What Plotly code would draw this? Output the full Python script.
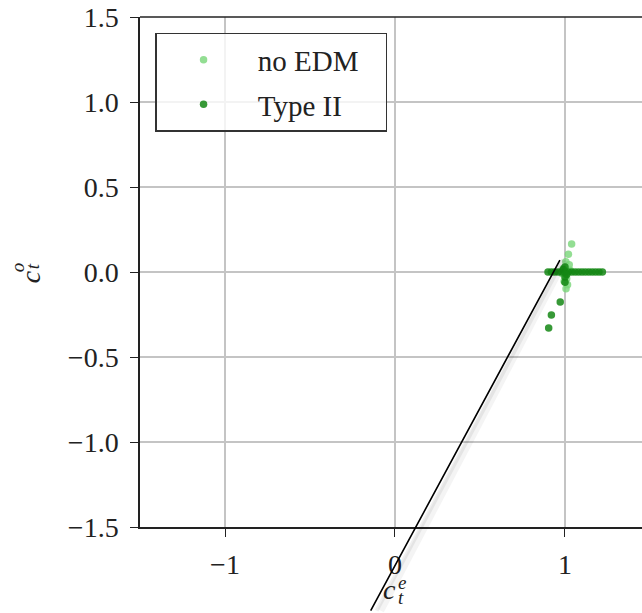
import plotly.graph_objects as go

# --- data ---
noedm_x = [1.039, 1.020, 1.025, 1.006, 1.015, 1.000, 0.990, 1.010, 1.030, 0.985, 1.005, 0.995]
noedm_y = [0.165, 0.104, 0.043, -0.098, -0.075, 0.000, 0.020, -0.040, 0.010, -0.010, 0.060, -0.055]

type2_x = [0.90, 0.92, 0.94, 0.96, 0.98, 1.00, 1.02, 1.04, 1.06, 1.08, 1.10, 1.12, 1.14, 1.16,
           1.18, 1.20, 1.22, 1.00, 1.00, 1.00, 0.99, 1.01, 0.972, 0.920, 0.904]
type2_y = [0.0, 0.0, 0.0, 0.0, 0.0, 0.0, 0.0, 0.0, 0.0, 0.0, 0.0, 0.0, 0.0, 0.0,
           0.0, 0.0, 0.0, 0.030, -0.030, -0.060, 0.015, -0.015, -0.176, -0.253, -0.329]

x_ticks = [-1, 0, 1]
y_ticks = [-1.5, -1.0, -0.5, 0.0, 0.5, 1.0, 1.5]
y_tick_text = ["\u22121.5", "\u22121.0", "\u22120.5", "0.0", "0.5", "1.0", "1.5"]
x_tick_text = ["\u22121", "0", "1"]

FONT = "Liberation Serif"
TXT = "#222"
NB = "\u00a0"

fig = go.Figure()
fig.add_trace(go.Scatter(x=noedm_x, y=noedm_y, mode="markers", name=NB + "no EDM" + NB * 3,
                         legendgroup="a",
                         marker=dict(size=7.5, color="rgba(120,214,120,0.8)", line=dict(width=0))))
fig.add_trace(go.Scatter(x=type2_x, y=type2_y, mode="markers", name=NB + "Type II",
                         legendgroup="b",
                         marker=dict(size=7.5, color="rgba(20,135,20,0.85)", line=dict(width=0))))

axis_common = dict(
    showgrid=True, gridcolor="#c4c4c4", gridwidth=1.5,
    zeroline=False, showline=True, linecolor="#222", linewidth=1.5,
    ticks="outside", ticklen=8, tickwidth=1.3, tickcolor="#222",
    tickfont=dict(family=FONT, size=28, color=TXT),
    ticklabeloverflow="allow", automargin=False,
)
fig.update_xaxes(range=[-1.5, 1.453], tickvals=x_ticks, ticktext=x_tick_text,
                 ticklabelstandoff=4, **axis_common)
fig.update_yaxes(range=[-1.5, 1.5], tickvals=y_ticks, ticktext=y_tick_text,
                 ticklabelstandoff=6, **axis_common)

annotations = []
# x axis title c_t^e
xt = dict(xref="paper", yref="paper", x=0.498, y=-0.1235, showarrow=False,
          xanchor="center", yanchor="middle", borderpad=0)
annotations.append(dict(**xt, text="<i>c</i>", font=dict(family=FONT, size=28, color=TXT)))
annotations.append(dict(**xt, text="<i>e</i>", xshift=12, yshift=7,
                        font=dict(family=FONT, size=19, color=TXT)))
annotations.append(dict(**xt, text="<i>t</i>", xshift=11, yshift=-8,
                        font=dict(family=FONT, size=19, color=TXT)))
# y axis title c_t^o
yt = dict(xref="paper", yref="paper", x=-0.219, y=0.490, showarrow=False, textangle=-90,
          xanchor="center", yanchor="middle", borderpad=0)
annotations.append(dict(**yt, text="<i>c</i>", font=dict(family=FONT, size=28, color=TXT)))
annotations.append(dict(**yt, text="<i>o</i>", xshift=-13, yshift=10,
                        font=dict(family=FONT, size=19, color=TXT)))
annotations.append(dict(**yt, text="<i>t</i>", xshift=2, yshift=11,
                        font=dict(family=FONT, size=19, color=TXT)))

# connector line from the cluster, with soft shadow
for dx, w, col in [(5, 7, "rgba(0,0,0,0.04)"), (3, 4, "rgba(0,0,0,0.06)"), (0, 1.6, "black")]:
    annotations.append(dict(xref="x", yref="y", x=0.97, y=0.07, ax=-190 + dx, ay=352,
                            axref="pixel", ayref="pixel", text="", showarrow=True,
                            arrowhead=0, arrowwidth=w, arrowcolor=col, xshift=dx,
                            startstandoff=0, standoff=0))

fig.update_layout(
    width=642, height=613,
    margin=dict(l=140, r=0, t=17, b=86, autoexpand=False),
    plot_bgcolor="white", paper_bgcolor="white",
    font=dict(family=FONT, size=24, color=TXT),
    showlegend=True,
    legend=dict(x=0.03, y=0.969, xanchor="left", yanchor="top",
                bgcolor="rgba(255,255,255,0.8)", bordercolor="#333", borderwidth=1.5,
                font=dict(family=FONT, size=29, color=TXT),
                tracegroupgap=4, itemwidth=84),
    annotations=annotations,
    shapes=[dict(type="line", xref="paper", yref="paper", x0=0, x1=1, y0=1, y1=1,
                 line=dict(color="#222", width=1.5))],
)

fig.write_html("out.html", config={"displayModeBar": False},
               post_script="document.body.style.margin='0';")
